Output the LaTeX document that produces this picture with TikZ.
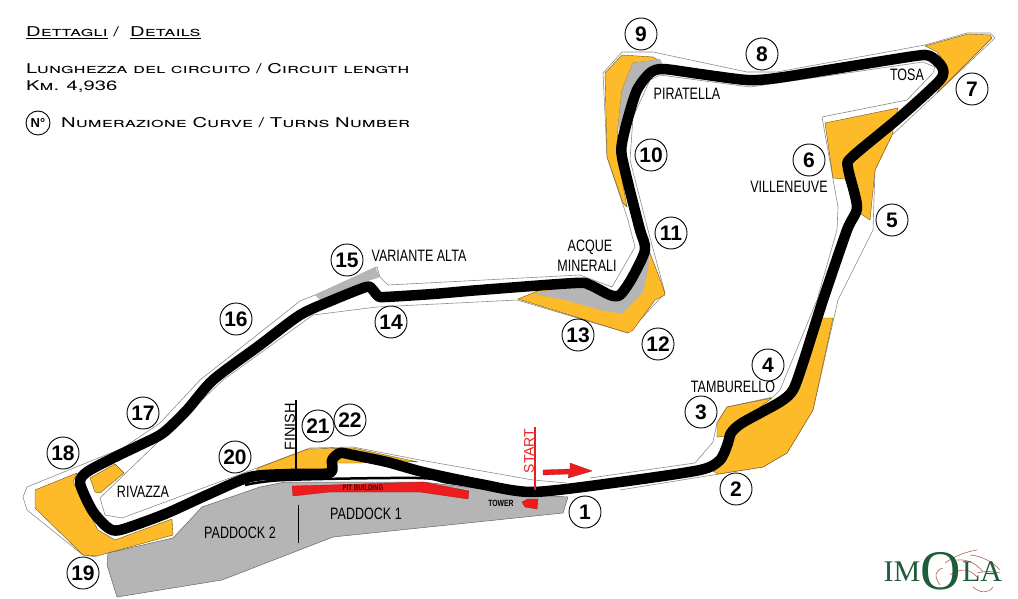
\documentclass[tikz,border=0pt]{standalone}
\usepackage{fontspec}
\setmainfont{Liberation Sans}
\newfontfamily\lblfont[FakeStretch=0.76]{Liberation Sans}
\newfontfamily\headfont[FakeStretch=1.5,Letters=SmallCaps]{TeX Gyre Heros}
\newfontfamily\logofont{Liberation Serif}
\definecolor{gravel}{HTML}{FDBB2A}
\definecolor{tarmac}{HTML}{B5B5B5}
\definecolor{pitred}{HTML}{EE1C1C}
\definecolor{logogreen}{HTML}{1F5C3A}
\definecolor{logored}{HTML}{B0605C}
\tikzset{
  edgeline/.style={draw=black!45,line width=0.6pt,line join=round},
  gravelbed/.style={fill=gravel,draw=black!55!gravel,line width=0.4pt,line join=round},
  paved/.style={fill=tarmac,draw=black!60,line width=0.5pt,line join=round},
  pitblock/.style={fill=pitred,draw=pitred!70!black,line width=0.3pt},
  trackline/.style={draw=black,line width=10.5pt,line join=round,line cap=round},
  turn/.style={circle,draw,line width=0.9pt,fill=white,minimum size=32pt,inner sep=0pt,font=\fontsize{21}{21}\selectfont\bfseries},
  place/.style={font=\lblfont\fontsize{16.5}{17}\selectfont,inner sep=0pt,align=center},
  headline/.style={anchor=west,inner sep=0pt,font=\headfont\fontsize{13.5}{15}\selectfont},
  swoosh/.style={draw=logored,line width=0.6pt}
}
\begin{document}
\begin{tikzpicture}[x=1pt,y=-1pt]
\useasboundingbox (0,0) rectangle (1018,599);
% edge of the run-off, outside and inside of the lap
\draw[edgeline] (620,490) -- (713,475) -- (763,467) -- (787,453) -- (813,410) -- (838,300) -- (873,230) -- (875,170) -- (892,135) -- (938,92) -- (995,38) -- (990,33) -- (967,33) -- (925,45) -- (777,72) -- (747,72) -- (653,52) -- (622,52) -- (603,73) -- (607,157) -- (628,220) -- (635,247) -- (612,287) -- (580,275) -- (388,285) -- (380,277) -- (377,267) -- (315,295) -- (300,301) -- (200,380) -- (160,423) -- (123,448) -- (27,487) -- (23,497) -- (27,510) -- (83,555) -- (97,557);
\draw[edgeline] (223,380) -- (157,443) -- (100,498) -- (105,515) -- (122,518) -- (257,468) -- (310,448) -- (353,447) -- (420,460) -- (533,480) -- (567,483);
\draw[edgeline] (590,478) -- (695,463) -- (713,442) -- (717,423) -- (727,407) -- (773,397) -- (780,390) -- (817,300) -- (837,230) -- (838,207) -- (822,117) -- (907,100) -- (933,73) -- (935,67) -- (923,62) -- (750,87) -- (660,75) -- (650,80) -- (633,117) -- (630,160) -- (648,230) -- (665,293) -- (628,333) -- (517,300) -- (377,307) -- (313,315) -- (223,380);
% gravel beds
\draw[gravelbed] (605,73) -- (622,55) -- (653,57) -- (658,60) -- (633,63) -- (622,90) -- (618,127) -- (617,153) -- (627,207) -- (623,203) -- (607,157) -- cycle;
\draw[gravelbed] (925,46) -- (968,34) -- (990,35) -- (992,38) -- (937,93) -- (947,73) -- (945,63) -- (937,52) -- cycle;
\draw[gravelbed] (825,123) -- (898,108) -- (892,135) -- (875,170) -- (870,220) -- (858,212) -- (845,179) -- (833,178) -- cycle;
\draw[gravelbed] (822,318) -- (833,318) -- (813,410) -- (787,453) -- (763,467) -- (718,474) -- (713,471) -- (725,460) -- (730,433) -- (780,402) -- (793,390) -- cycle;
\draw[gravelbed] (717,437) -- (717,423) -- (727,407) -- (772,398) -- (740,423) -- (728,436) -- cycle;
\draw[gravelbed] (518,299) -- (628,333) -- (633,330) -- (655,300) -- (665,295) -- (663,287) -- (650,253) -- (620,295) -- (590,285) -- (540,290) -- cycle;
\draw[gravelbed] (77,473) -- (35,490) -- (35,508) -- (83,555) -- (97,556) -- (173,535) -- (172,519) -- (115,540) -- (98,530) -- (73,482) -- cycle;
\draw[gravelbed] (90,478) -- (115,464) -- (124,473) -- (100,493) -- (95,492) -- cycle;
\draw[gravelbed] (258,468) -- (308,449) -- (353,448) -- (418,462) -- (385,460) -- (362,463) -- (335,463) -- (330,472) -- (255,473) -- cycle;
% paved run-off and paddock
\draw[paved,draw=none] (633,63) -- (660,59) -- (663,65) -- (650,70) -- (630,100) -- (622,133) -- (618,127) -- (622,90) -- cycle;
\draw[paved,draw=none] (533,294) -- (565,300) -- (600,310) -- (622,314) -- (643,292) -- (648,270) -- (650,250) -- (640,255) -- (620,295) -- (590,285) -- (560,288) -- cycle;
\draw[paved,draw=none] (315,295) -- (375,267) -- (380,277) -- (365,282) -- (320,300) -- cycle;
\draw[paved] (260,487) -- (202,507) -- (173,538) -- (108,553) -- (107,565) -- (117,597) -- (222,580) -- (333,537) -- (563,513) -- (568,497) -- (533,495) -- (423,482) -- (285,482) -- cycle;
\draw[line width=0.8pt] (298,505) -- (298,543);
% pit building and tower
\draw[pitblock] (292,486) -- (293,496) -- (330,492) -- (420,492) -- (468,499) -- (469,491) -- (423,482) -- (330,485) -- cycle;
\draw[pitblock] (522,502) -- (528,499) -- (538,499) -- (537,509) -- (525,507) -- cycle;
% pit lane
\draw[line width=2.5pt,line join=round] plot[smooth,tension=.5] coordinates {(245,485) (285,480) (417,478) (450,483) (533,495)};
% the lap
\draw[trackline] plot[smooth cycle,tension=.45] coordinates {
  (533,492) (620,482) (700,470) (720,460) (728,443) (731,433) (742,423) (780,402) (793,390) (803,363)
  (823,300) (847,230) (857,207) (848,168) (852,157) (900,117) (940,80) (942,67) (930,56) (915,56)
  (840,68) (777,78) (747,80) (700,74) (663,69) (650,73) (637,90) (628,118) (622,143) (622,157)
  (631,195) (640,230) (645,250) (632,278) (620,295) (610,295) (590,285) (575,283) (480,290) (433,294)
  (385,297) (378,296) (372,289) (366,287) (333,300) (300,315) (260,345) (213,380) (187,410) (163,433)
  (140,445) (113,458) (87,472) (80,483)
  (92,510) (107,527) (120,530) (165,514) (207,495) (250,477) (290,474) (330,473) (332,460) (340,453)
  (353,455) (387,462) (423,472) (480,484)};
% finish, start and direction
\draw[line width=2pt] (296,400) -- (296,476);
\draw[line width=2pt,pitred] (535,427) -- (535,490);
\node[rotate=90,inner sep=0pt,font=\fontsize{14.5}{15}\selectfont] (finish) at (290,427) {FINISH};
\node[rotate=90,inner sep=0pt,text=pitred,font=\fontsize{14}{14}\selectfont] (start) at (529,451) {START};
\draw[pitblock] (543,470) -- (570,469) -- (570,463) -- (592,471) -- (568,478) -- (569,474) -- (543,475) -- cycle;
% names of the corners
\foreach \lbl/\txt/\x/\y in {rivazza/RIVAZZA/143/492, variante/VARIANTE ALTA/419/256, acque/ACQUE/590/247, minerali/MINERALI/587/266,
  piratella/PIRATELLA/687/94, tosa/TOSA/907/75, villeneuve/VILLENEUVE/789/187, tamburello/TAMBURELLO/733/387,
  paddock1/PADDOCK 1/366/514, paddock2/PADDOCK 2/240/533}
  \node[place] (\lbl) at (\x,\y) {\txt};
\node[inner sep=0pt,font=\lblfont\bfseries\fontsize{8}{8}\selectfont,text=black!75!red] (pit) at (363,488) {PIT BUILDING};
\node[inner sep=0pt,font=\lblfont\bfseries\fontsize{9}{9}\selectfont] (tower) at (501,503) {TOWER};
% numbered turns
\foreach \n/\x/\y in {1/585/512, 2/736/489, 3/701/412, 4/768/365, 5/892/220, 6/809/160, 7/972/89, 8/762/54, 9/641/34, 10/651/155, 11/671/233,
  12/658/344, 13/578/335, 14/391/322, 15/347/260, 16/236/319, 17/143/413, 18/63/453, 19/83/573, 20/235/457, 21/318/426, 22/350/420}
  \node[turn] (t\n) at (\x,\y) {\n};
% legend
\node[headline] (head) at (26,33) {\underline{Dettagli} /\ \ \underline{Details}};
\node[headline] (length) at (26,69) {Lunghezza del circuito / Circuit length};
\node[headline] (km) at (26,87) {Km. 4,936};
\node[turn,minimum size=24pt,font=\fontsize{13}{13}\selectfont\bfseries] (nr) at (38,123) {N°};
\node[headline] (numbers) at (61,123) {Numerazione Curve / Turns Number};
% logo
\draw[swoosh] (940,585) .. controls (933,575) and (936,570) .. (943,568);
\draw[swoosh] (945,563) .. controls (955,556) and (965,552) .. (977,550);
\draw[swoosh] (957,560) .. controls (968,559) and (977,564) .. (983,572);
\draw[swoosh] (970,555) .. controls (982,556) and (993,562) .. (1000,570);
\draw[swoosh] (973,587) .. controls (980,593) and (988,594) .. (993,587);
\draw[swoosh] (977,573) .. controls (985,571) and (993,571) .. (1000,573);
\draw[swoosh] (950,575) .. controls (960,568) and (970,568) .. (978,578);
\node[inner sep=0pt,text=logogreen,font=\logofont\fontsize{30}{30}\selectfont] (logoim) at (902,572) {IM};
\node[inner sep=0pt,text=logogreen,font=\logofont\fontsize{56}{56}\selectfont] (logoo) at (941,571) {O};
\node[inner sep=0pt,text=logogreen,font=\logofont\fontsize{30}{30}\selectfont] (logola) at (982,572) {LA};
\end{tikzpicture}
\end{document}
